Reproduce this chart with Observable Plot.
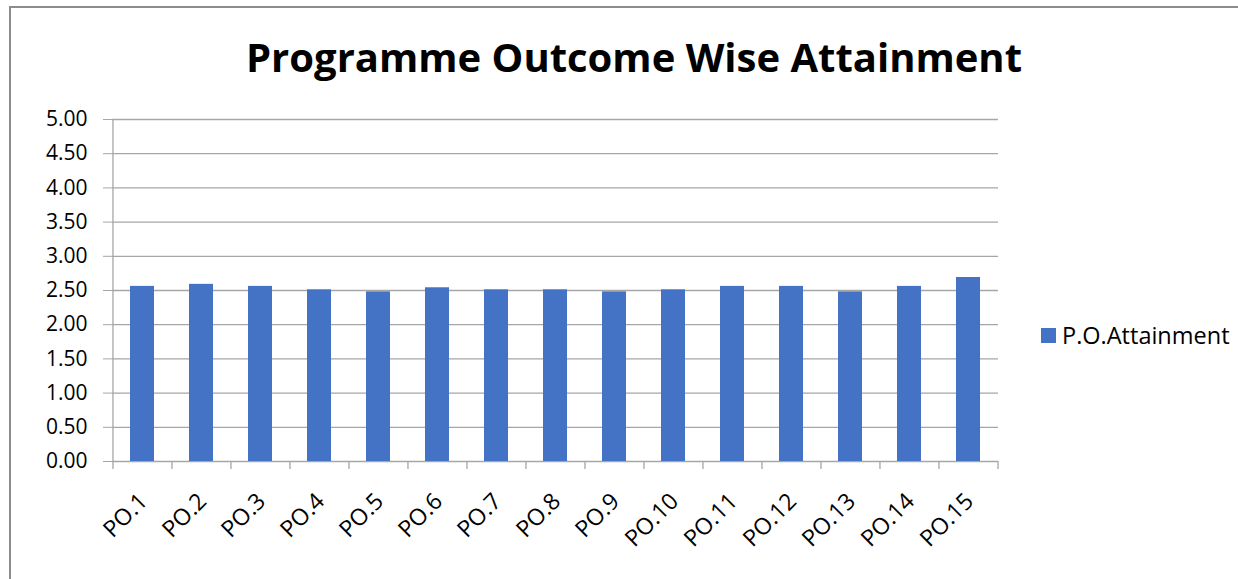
<!DOCTYPE html>
<html>
<head>
<meta charset="utf-8">
<script src="https://cdn.jsdelivr.net/npm/d3@7"></script>
<script src="https://cdn.jsdelivr.net/npm/@observablehq/plot@0.6"></script>
<style>
  html, body { margin: 0; padding: 0; background: #fff; overflow: hidden; }
  #wrap { position: relative; width: 1238px; height: 579px; overflow: hidden; font-family: "Open Sans", sans-serif; }
  #border { position: absolute; left: 9px; top: 6px; width: 1260px; height: 620px; border: 2px solid #8c8c8c; box-sizing: border-box; }
  #title { position: absolute; left: 0; top: 0; width: 1268px; height: 100px; text-align: center; font-weight: 700; font-size: 40px; line-height: 114px; color: #000; }
  #chart { position: absolute; left: 0; top: 100px; }
  #legend { position: absolute; left: 1041px; top: 319px; font-size: 23.5px; color: #000; display: flex; align-items: center; }
  #legend .sw { width: 15px; height: 15px; background: #4472c4; margin-right: 6px; }
</style>
</head>
<body>
<div id="wrap">
  <div id="border"></div>
  <div id="title">Programme Outcome Wise Attainment</div>
  <div id="chart"></div>
  <div id="legend"><span class="sw"></span><span>P.O.Attainment</span></div>
</div>
<script>
const categories = ["PO.1","PO.2","PO.3","PO.4","PO.5","PO.6","PO.7","PO.8","PO.9","PO.10","PO.11","PO.12","PO.13","PO.14","PO.15"];
const values = [2.56, 2.59, 2.56, 2.51, 2.48, 2.54, 2.51, 2.51, 2.48, 2.51, 2.56, 2.56, 2.48, 2.56, 2.69];
const yTicks = [0, 0.5, 1, 1.5, 2, 2.5, 3, 3.5, 4, 4.5, 5];
const seriesName = "P.O.Attainment";

const data = categories.map((c, i) => ({category: c, value: values[i]}));
const W = 1238, H = 479;
const mL = 112, mR = 240, mT = 19, mB = 118;
const band = (W - mL - mR) / categories.length;

const chart = Plot.plot({
  width: W,
  height: H,
  marginLeft: mL,
  marginRight: mR,
  marginTop: mT,
  marginBottom: mB,
  style: {fontFamily: "'Open Sans', sans-serif", fontSize: "21px", color: "#000", background: "transparent"},
  x: {domain: categories, paddingInner: 0.59, paddingOuter: 0.295, align: 0.5, label: null},
  y: {domain: [0, 5], ticks: yTicks, label: null},
  marks: [
    Plot.ruleY(yTicks, {stroke: "#a6a6a6", strokeWidth: 1.3}),
    Plot.barY(data, {x: "category", y: "value", fill: "#4472c4"}),
    Plot.ruleX(categories, {x: d => d, y1: 0, y2: 0, dx: -band / 2, insetBottom: -8, stroke: "#a6a6a6", strokeWidth: 1.3}),
    Plot.ruleX([categories[categories.length - 1]], {x: d => d, y1: 0, y2: 0, dx: band / 2, insetBottom: -8, stroke: "#a6a6a6", strokeWidth: 1.3}),
    Plot.ruleX([categories[0]], {x: d => d, dx: -band / 2, stroke: "#a6a6a6", strokeWidth: 1.3}),
    Plot.axisY({ticks: yTicks, tickFormat: d => d.toFixed(2), tickSize: 9, tickPadding: 16, stroke: "#a6a6a6", fill: "#000", fontSize: 21}),
    Plot.axisX({tickSize: 0, tickRotate: -45, tickPadding: 36, fontSize: 23, fill: "#000", dx: 1})
  ]
});
document.getElementById("chart").appendChild(chart);
</script>
</body>
</html>
